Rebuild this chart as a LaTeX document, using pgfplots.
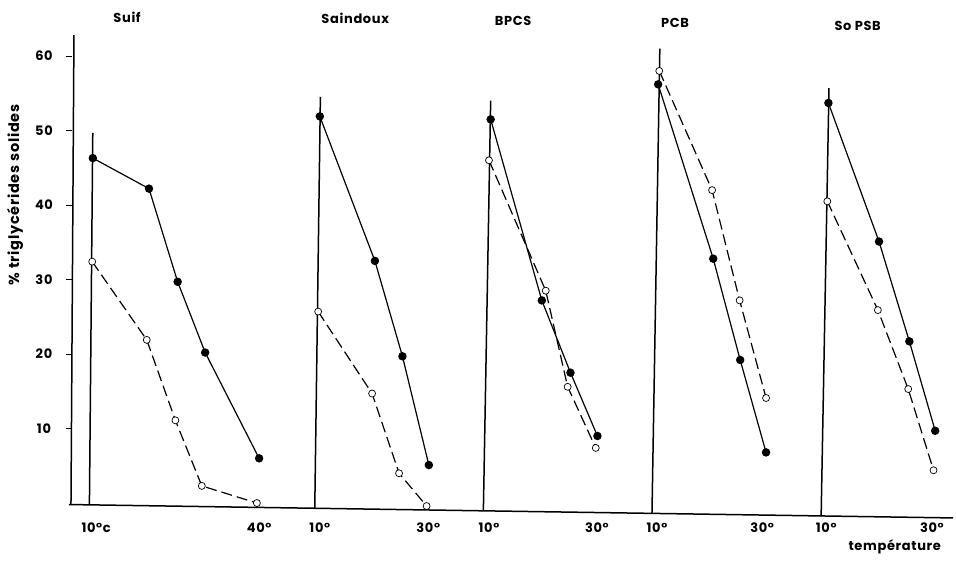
\documentclass[border=0pt]{standalone}
\usepackage{fontspec}
\setmainfont{Poppins}[LetterSpace=5]
\usepackage{pgfplots}
\pgfplotsset{compat=1.18}

% x is a running "temperature" scale: each panel is shifted
% (Suif +0, Saindoux +40, BPCS +70, PCB +100, SoPSB +130)
\begin{document}
\begin{tikzpicture}
\begin{axis}[
  scale only axis,
  width=881pt, height=482.8pt,
  xmin=6.8, xmax=163.56,
  ymin=-2, ymax=62.8,
  clip=false,
  axis x line=bottom, axis y line=left,
  axis line style={draw=none},
  ytick={10,20,30,40,50,60},
  tick align=outside,
  major tick length=6pt,
  ytick style={black, line width=1pt},
  xtick style={draw=none},
  /pgf/number format/assume math mode=true,
  yticklabel style={anchor=center, xshift=-22pt, font=\bfseries\fontsize{13}{14}\selectfont},
  xtick={11.1,40.1,50.9,70.2,81.0,100.2,110.9,129.6,141.0,159.8},
  xticklabels={10°c,40°,10°,30°,10°,30°,10°,30°,10°,30°},
  xticklabel style={anchor=center, yshift=-4pt, font=\bfseries\fontsize{13}{14}\selectfont},
  ylabel={\% triglycérides solides},
  ylabel style={at={(axis description cs:-0.0647,0.669)}, anchor=center, font=\bfseries\fontsize{14.5}{15}\selectfont},
  solid line/.style={black, line width=1.2pt, mark=*, mark size=3.6pt,
    mark options={solid, fill=black}},
  open line/.style={black, line width=1.2pt, dash pattern=on 11pt off 5pt,
    mark=*, mark size=3.5pt, mark options={solid, fill=white, line width=0.7pt}},
  frame/.style={black, line width=1.5pt, no marks},
]
% axes and the 10 degree verticals of each panel
\addplot[frame] coordinates {(6.62,-0.2) (7.15,62.8)};
\addplot[frame] coordinates {(6.26,-0.2) (163.6,-2.0)};
\addplot[frame] coordinates {(9.9,-0.25) (10.5,49.7)};
\addplot[frame] coordinates {(50.0,-0.72) (51.0,54.5)};
\addplot[frame] coordinates {(80.0,-1.07) (81.3,54.0)};
\addplot[frame] coordinates {(110.0,-1.44) (111.4,61.0)};
\addplot[frame] coordinates {(140.1,-1.8) (141.5,55.7)};

% Suif
\addplot[solid line] coordinates {(10.5,46.3) (20.5,42.2) (25.6,29.7) (30.5,20.2) (40.1,6.0)};
\addplot[open line] coordinates {(10.4,32.4) (20.1,21.9) (25.2,11.1) (29.9,2.3) (39.7,0.0)};
% Saindoux
\addplot[solid line] coordinates {(50.9,51.9) (60.7,32.5) (65.6,19.7) (70.3,5.1)};
\addplot[open line] coordinates {(50.6,25.7) (60.2,14.7) (65.0,4.0) (69.9,-0.4)};
% BPCS
\addplot[solid line] coordinates {(81.3,51.5) (90.4,27.2) (95.5,17.5) (100.3,9.0)};
\addplot[open line] coordinates {(81.0,46.0) (91.1,28.5) (95.0,15.6) (100.0,7.4)};
% PCB
\addplot[solid line] coordinates {(111.1,56.2) (120.9,32.8) (125.7,19.2) (130.3,6.8)};
\addplot[open line] coordinates {(111.3,58.0) (120.7,42.0) (125.6,27.2) (130.3,14.1)};
% So PSB
\addplot[solid line] coordinates {(141.4,53.7) (150.4,35.1) (155.8,21.7) (160.4,9.7)};
\addplot[open line] coordinates {(141.2,40.5) (150.2,25.9) (155.6,15.3) (160.1,4.4)};

\begin{scope}[font=\bfseries\fontsize{13}{14}\selectfont]
\node at (axis cs:16.6,65.2) {Suif};
\node at (axis cs:57.2,65.0) {Saindoux};
\node at (axis cs:85.3,64.7) {BPCS};
\node at (axis cs:114.1,64.4) {PCB};
\node at (axis cs:146.6,64.0) {So PSB};
\node at (axis cs:153.2,-5.9) {température};
\end{scope}
\path (axis cs:-6.01,-7.92) rectangle (axis cs:164.1,67.52);
\end{axis}
\end{tikzpicture}
\end{document}
